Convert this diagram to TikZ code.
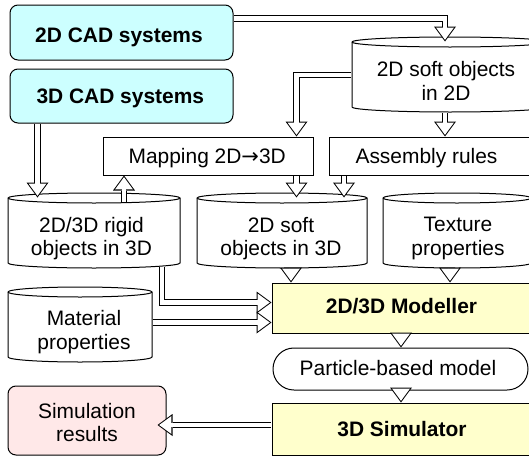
\documentclass[tikz,border=0pt]{standalone}
\usepackage{fontspec}
\setmainfont{Liberation Sans}
\newfontfamily\arrowfont{DejaVu Sans}
\usetikzlibrary{arrows.meta,calc}

\definecolor{cadfill}{HTML}{CCFFFF}
\definecolor{toolfill}{HTML}{FFFFCC}
\definecolor{resultfill}{HTML}{FFE8E8}

% Coordinates are given in pixels, y growing downwards.
% A box-shaped node: style, name, left, top, right, bottom
\newcommand\placebox[6]{%
  \node[#1, minimum width={(#5-#3)*0.75pt}, minimum height={(#6-#4)*0.75pt}]
    (#2) at ({(#3+#5)/2},{(#4+#6)/2}) {};}

% A database drum: name, left, top, right, bottom
\newcommand\drum[5]{%
  \pgfmathsetmacro\drumrx{(#4-#2)*0.375}%
  \node[inner sep=0pt, minimum width={(#4-#2)*0.75pt}, minimum height={(#5-#3)*0.75pt}]
    (#1) at ({(#2+#4)/2},{(#3+#5)/2}) {};
  \draw[fill=white] (#2,#3+5) -- (#2,#5-5)
    arc[start angle=180, end angle=360, x radius=\drumrx pt, y radius=3.75pt]
    -- (#4,#3+5)
    arc[start angle=0, end angle=180, x radius=\drumrx pt, y radius=3.75pt] -- cycle;
  \draw (#2,#3+5)
    arc[start angle=180, end angle=360, x radius=\drumrx pt, y radius=3.75pt];}

\tikzset{
  txtfont/.style={font=\fontsize{15.7}{17.6}\selectfont},
  plainbox/.style={draw, fill=white, inner sep=0pt},
  cadbox/.style={plainbox, fill=cadfill, rounded corners=6pt},
  toolbox/.style={plainbox, fill=toolfill},
  resultbox/.style={plainbox, fill=resultfill, rounded corners=6pt},
  pillbox/.style={plainbox, rounded corners=15.7pt},
  caption/.style={txtfont, align=center, inner sep=0pt},
  strongcaption/.style={caption, font=\fontsize{15.7}{17.6}\selectfont\bfseries},
  hollow/.style={line width=4.9pt, line join=miter, shorten <=0.4pt,
    -{Triangle[width=16.5pt, length=11.25pt, line width=0pt]},
    postaction={draw=white, line width=3.4pt, shorten <=0.4pt, shorten >=1.27pt,
      -{Triangle[width=13.5pt, length=9.2pt, line width=0pt]}}},
}

\begin{document}
\begin{tikzpicture}[x=0.75pt, y=-0.75pt, line width=0.75pt]
\useasboundingbox (0,0) rectangle (529,457);

% ---- sources and stores
\placebox{cadbox}{cad2}{10}{5}{233}{60}
\placebox{cadbox}{cad3}{10}{69}{233}{123}
\drum{soft2}{352}{37}{548}{112}
\placebox{plainbox}{mapping}{103}{137}{313}{175}
\placebox{plainbox}{assembly}{329}{137}{531}{175}
\drum{rigid}{8}{193}{180}{268}
\drum{soft3d}{197}{193}{367}{268}
\drum{texture}{383}{193}{531}{268}
\placebox{toolbox}{modeller}{272}{283}{531}{333}
\drum{material}{8}{287}{152}{362}
\placebox{pillbox}{particle}{273}{348}{528}{390}
\placebox{toolbox}{simulator}{272}{403}{531}{455}
\placebox{resultbox}{results}{8}{386}{166}{455}

% ---- labels
\node[strongcaption] (cad2-t) at (119,37.4) {2D CAD systems};
\node[strongcaption] (cad3-t) at (120.3,98) {3D CAD systems};
\node[caption] (soft2-t) at (446,80.9) {2D soft objects\\in 2D};
\node[caption] (mapping-t) at (207.2,158) {Mapping 2D{\arrowfont →}3D};
\node[caption] (assembly-t) at (426.5,158) {Assembly rules};
\node[caption] (rigid-t) at (91.5,238.5) {2D/3D rigid\\objects in 3D};
\node[caption] (soft3d-t) at (281,238.5) {2D soft\\objects in 3D};
\node[caption] (texture-t) at (458,238.5) {Texture\\properties};
\node[strongcaption] (modeller-t) at (401.5,305.8) {2D/3D Modeller};
\node[caption] (material-t) at (84,331.9) {Material\\properties};
\node[caption] (particle-t) at (398,368.5) {Particle-based model};
\node[strongcaption] (simulator-t) at (402,428.6) {3D Simulator};
\node[caption] (results-t) at (87,422.5) {Simulation\\results};

% ---- guide lines for the connectors
\coordinate (lineCAD) at (0,18.5);
\coordinate (lineSoft) at (0,75);
\coordinate (lineRigid) at (0,302.5);
\coordinate (lineMat) at (0,322.5);
\coordinate (lineSim) at (0,425);
\coordinate (colSoft) at (445,0);
\coordinate (colMap) at (296.5,0);
\coordinate (colCAD) at (37.5,0);
\coordinate (colRigidUp) at (124,0);
\coordinate (colAsm) at (344,0);
\coordinate (colSoft3d) at (291,0);
\coordinate (colTex) at (450,0);
\coordinate (colRigidDn) at (162,0);
\coordinate (colMain) at (401,0);

% ---- connectors
\draw[hollow] (cad2.east |- lineCAD) -| ($(soft2.north -| colSoft)+(0,5)$);
\draw[hollow] (soft2.west |- lineSoft) -| (mapping.north -| colMap);
\draw[hollow] (soft2.south -| colSoft) -- (assembly.north -| colSoft);
\draw[hollow] (cad3.south -| colCAD) -- ($(rigid.north -| colCAD)+(0,5)$);
\draw[hollow] ($(rigid.north -| colRigidUp)+(0,9.7)$) -- (mapping.south -| colRigidUp);
\draw[hollow] (mapping.south -| colMap) -- ($(soft3d.north -| colMap)+(0,5)$);
\draw[hollow] (assembly.south -| colAsm) -- ($(soft3d.north -| colAsm)+(0,5)$);
\draw[hollow] ($(soft3d.south -| colSoft3d)+(0,-0.3)$) -- (modeller.north -| colSoft3d);
\draw[hollow] ($(texture.south -| colTex)+(0,-0.3)$) -- (modeller.north -| colTex);
\draw[hollow] ($(rigid.south -| colRigidDn)+(0,-2)$) |- (modeller.west |- lineRigid);
\draw[hollow] (material.east |- lineMat) -- (modeller.west |- lineMat);
\draw[hollow] (modeller.south -| colMain) -- (particle.north -| colMain);
\draw[hollow] (particle.south -| colMain) -- (simulator.north -| colMain);
\draw[hollow] (simulator.west |- lineSim) -- ($(results.east |- lineSim)+(-9,0)$);
\end{tikzpicture}
\end{document}
